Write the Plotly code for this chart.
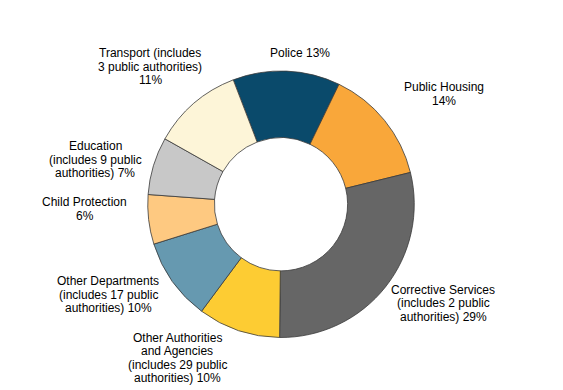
import plotly.graph_objects as go

# Data
categories = ["Police", "Public Housing", "Corrective Services",
              "Other Authorities and Agencies", "Other Departments",
              "Child Protection", "Education", "Transport"]
values = [13, 14, 29, 10, 10, 6, 7, 11]
label_texts = [
    "Police 13%",
    "Public Housing<br>14%",
    "Corrective Services<br>(includes 2 public<br>authorities) 29%",
    "Other Authorities<br>and Agencies<br>(includes 29 public<br>authorities) 10%",
    "Other Departments<br>(includes 17 public<br>authorities) 10%",
    "Child Protection<br>6%",
    "Education<br>(includes 9 public<br>authorities) 7%",
    "Transport (includes<br>3 public authorities)<br>11%",
]
colors = ["#0a4a6b", "#f9a73a", "#666666", "#fdcc33",
          "#6699b0", "#fec981", "#c8c8c8", "#fdf5d8"]

W, H = 563, 390
OFF = 8  # page body margin offset
# label centre positions (pixels in the screenshot)
label_pos = [(300, 52.5), (444, 94), (443, 303), (177, 358),
             (108, 294.5), (85, 209), (95, 159.6), (150, 66.7)]
line_h = 13.5

def fx(px):
    return (px - OFF) / W

def fy(py):
    return 1 - (py - OFF) / H

fig = go.Figure(go.Pie(
    labels=categories, values=values, sort=False, direction="clockwise",
    rotation=-21, hole=0.5, textinfo="none",
    marker=dict(colors=colors, line=dict(color="#3a3a3a", width=0.8)),
    domain=dict(x=[fx(147.5), fx(414.5)], y=[fy(337.5), fy(71)]),
    showlegend=False, hoverinfo="label+value",
))

annotations = []
for txt, (px, py) in zip(label_texts, label_pos):
    lines = txt.split("<br>")
    n = len(lines)
    for i, ln in enumerate(lines):
        yy = py + (i - (n - 1) / 2) * line_h
        annotations.append(dict(
            x=fx(px), y=fy(yy), xref="paper", yref="paper",
            text=ln, showarrow=False, xanchor="center", yanchor="middle",
            font=dict(family="Arial, Liberation Sans, sans-serif", size=12, color="#000000"),
        ))

fig.update_layout(
    width=W, height=H, margin=dict(l=0, r=0, t=0, b=0),
    paper_bgcolor="white", plot_bgcolor="white",
    annotations=annotations,
)
fig.write_html("out.html")
